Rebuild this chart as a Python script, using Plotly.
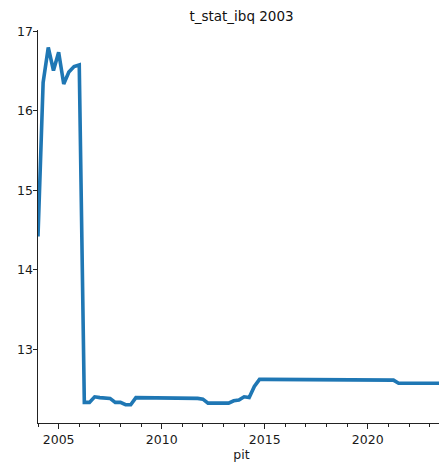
import pandas as pd
import plotly.graph_objects as go

# quarterly points
quarters = pd.date_range("2004-01-01", "2023-10-01", freq="QS")

t_stat = [
    14.42, 16.36, 16.80, 16.51,   # 2004
    16.74, 16.34, 16.49, 16.56,   # 2005
    16.58, 12.33, 12.33, 12.40,   # 2006
    12.39, 12.39, 12.38, 12.33,   # 2007
    12.33, 12.30, 12.30, 12.39,   # 2008
    12.39, 12.39, 12.39, 12.38,   # 2009
    12.38, 12.38, 12.38, 12.38,   # 2010
    12.38, 12.38, 12.38, 12.38,   # 2011
    12.37, 12.32, 12.32, 12.32,   # 2012
    12.32, 12.32, 12.35, 12.36,   # 2013
    12.40, 12.39, 12.53, 12.62,   # 2014
    12.62, 12.62, 12.62, 12.62,   # 2015
    12.62, 12.62, 12.62, 12.62,   # 2016
    12.62, 12.61, 12.61, 12.61,   # 2017
    12.61, 12.61, 12.61, 12.61,   # 2018
    12.61, 12.61, 12.61, 12.61,   # 2019
    12.61, 12.61, 12.61, 12.61,   # 2020
    12.61, 12.61, 12.57, 12.57,   # 2021
    12.57, 12.57, 12.57, 12.57,   # 2022
    12.57, 12.57, 12.57, 12.57,   # 2023
]

y_ticks = [13, 14, 15, 16, 17]

df = pd.DataFrame({"pit": quarters, "t_stat": t_stat})

# the page body has an 8px margin, so size the figure to the visible area
W, H = 439, 464

fig = go.Figure()
fig.add_trace(go.Scatter(x=df["pit"], y=df["t_stat"], mode="lines",
                         line=dict(color="#1f77b4", width=3.6)))

fig.update_layout(
    width=W, height=H,
    margin=dict(l=30, r=2, t=22, b=49, autoexpand=False),
    paper_bgcolor="white", plot_bgcolor="white",
    font=dict(family="DejaVu Sans", size=12.5, color="#1a1a1a"),
    showlegend=False,
    title=dict(text="t_stat_ibq 2003", x=0.5, xref="paper", xanchor="center",
               y=1 - 4 / H, yanchor="top", font=dict(size=13.5, color="#111")),
)

fig.update_xaxes(
    type="date", automargin=False,
    range=[df["pit"].iloc[0], df["pit"].iloc[-1]],
    showgrid=False, zeroline=False,
    showline=True, linecolor="#222", linewidth=1,
    ticks="outside", ticklen=4.5, tickwidth=1, tickcolor="#222",
    tick0="2005-01-01", dtick="M60", tickformat="%Y",
    minor=dict(ticks="outside", ticklen=2.5, tickwidth=0.8, tickcolor="#222",
               dtick="M12", tick0="2004-01-01", showgrid=False),
    title=dict(text="pit", standoff=4, font=dict(size=12.5)),
)

fig.update_yaxes(
    range=[12.07, 17.02], automargin=False,
    tickvals=y_ticks,
    showgrid=False, zeroline=False,
    showline=True, linecolor="#222", linewidth=1,
    ticks="outside", ticklen=4.5, tickwidth=1, tickcolor="#222",
    ticklabelstandoff=-3,
)

fig.write_html("out.html")
